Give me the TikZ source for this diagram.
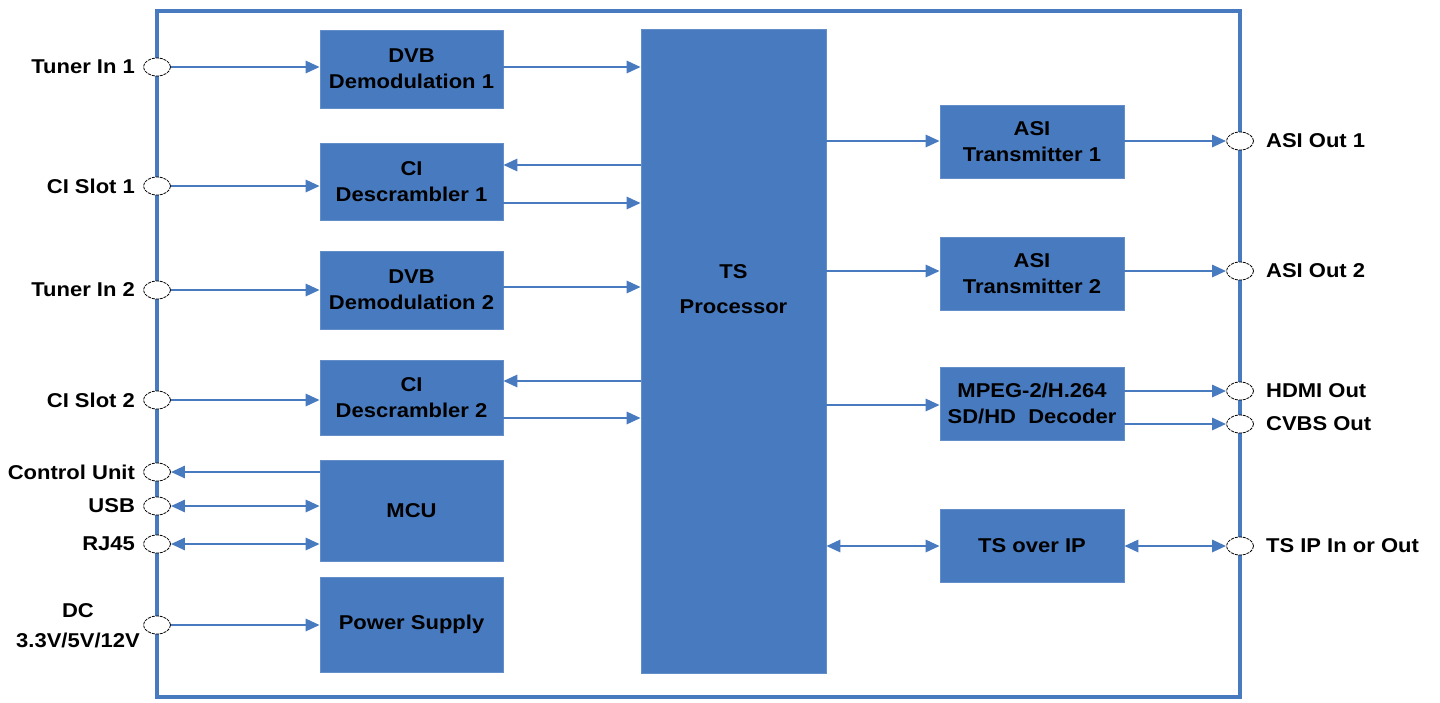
\documentclass[tikz,border=0pt]{standalone}
\usepackage{fontspec}
\setmainfont{Liberation Sans}[FakeStretch=1.1]
\usetikzlibrary{arrows.meta,positioning,shapes.geometric}
\definecolor{bblue}{RGB}{72,122,192}
\begin{document}
\begin{tikzpicture}[x=1pt,y=-1pt,
  txt/.style={font=\fontsize{20}{26}\selectfont\bfseries, text=black},
  blk/.style={txt, fill=bblue, draw=bblue!85!white, line width=0.6pt, align=center, minimum width=183pt, inner sep=0pt},
  port/.style={ellipse, draw=black, fill=white, line width=0.8pt, dash pattern=on 3pt off 1pt, minimum width=27pt, minimum height=18pt, inner sep=0pt},
  lbl/.style={txt, inner sep=0pt},
  frm/.style={draw=bblue, line width=3.2pt},
  tip/.tip={Triangle[length=14pt,width=12pt]},
  arr/.style={draw=bblue, line width=2.8pt, -tip},
  darr/.style={draw=bblue, line width=2.8pt, tip-tip},
  rarr/.style={draw=bblue, line width=2.8pt, tip-}
]
\useasboundingbox (0,0) rectangle (1440,702);
% frame
\draw[frm] (157,11) rectangle (1240,697);

% left blocks
\node[blk, minimum height=78pt] (dvb1) at (411.5,69) {DVB\\Demodulation 1};
\node[blk, minimum height=77pt] (ci1) at (411.5,181.5) {CI\\Descrambler 1};
\node[blk, minimum height=78pt] (dvb2) at (411.5,290) {DVB\\Demodulation 2};
\node[blk, minimum height=75pt] (ci2) at (411.5,397.5) {CI\\Descrambler 2};
\node[blk, minimum height=101pt] (mcu) at (411.5,510.5) {MCU};
\node[blk, minimum height=95pt] (psu) at (411.5,624.5) {Power Supply};
% TS processor
\node[blk, minimum width=185pt, minimum height=644pt] (ts) at (733.5,351) {};
\node[lbl, align=center, font=\fontsize{20}{35}\selectfont\bfseries] (tslbl) at (733.5,289) {TS\\Processor};
% right blocks
\node[blk, minimum width=184pt, minimum height=73pt] (asi1) at (1032,141.5) {ASI\\Transmitter 1};
\node[blk, minimum width=184pt, minimum height=73pt] (asi2) at (1032,273.5) {ASI\\Transmitter 2};
\node[blk, minimum width=184pt, minimum height=73pt] (dec) at (1032,403.5) {MPEG-2/H.264\\SD/HD\ \ Decoder};
\node[blk, minimum width=184pt, minimum height=73pt] (tsip) at (1032,545.5) {TS over IP};

% left ports
\node[port] (pt1) at (157,67) {};
\node[port] (pc1) at (157,186) {};
\node[port] (pt2) at (157,290) {};
\node[port] (pc2) at (157,400) {};
\node[port] (pcu) at (157,472) {};
\node[port] (pusb) at (157,506) {};
\node[port] (prj) at (157,544) {};
\node[port] (pdc) at (157,625) {};
\node[lbl, left=8pt of pt1] (lt1) {Tuner In 1};
\node[lbl, left=8pt of pc1] (lc1) {CI Slot 1};
\node[lbl, left=8pt of pt2] (lt2) {Tuner In 2};
\node[lbl, left=8pt of pc2] (lc2) {CI Slot 2};
\node[lbl, left=8pt of pcu] (lcu) {Control Unit};
\node[lbl, left=8pt of pusb] (lusb) {USB};
\node[lbl, left=8pt of prj] (lrj) {RJ45};
\node[lbl, align=center, font=\fontsize{20}{30}\selectfont\bfseries] (ldc) at (78,626) {DC\\3.3V/5V/12V};

% right ports
\node[port] (pa1) at (1240,141) {};
\node[port] (pa2) at (1240,271) {};
\node[port] (phd) at (1240,391) {};
\node[port] (pcv) at (1240,424) {};
\node[port] (pip) at (1240,546) {};
\node[lbl, right=12pt of pa1] (la1) {ASI Out 1};
\node[lbl, right=12pt of pa2] (la2) {ASI Out 2};
\node[lbl, right=12pt of phd] (lhd) {HDMI Out};
\node[lbl, right=12pt of pcv] (lcv) {CVBS Out};
\node[lbl, right=12pt of pip] (lip) {TS IP In or Out};

% left connectors
\draw[arr] (pt1.east) -- (pt1 -| dvb1.west);
\draw[arr] (pc1.east) -- (pc1 -| ci1.west);
\draw[arr] (pt2.east) -- (pt2 -| dvb2.west);
\draw[arr] (pc2.east) -- (pc2 -| ci2.west);
\draw[rarr] (pcu.east) -- (pcu -| mcu.west);
\draw[darr] (pusb.east) -- (pusb -| mcu.west);
\draw[darr] (prj.east) -- (prj -| mcu.west);
\draw[arr] (pdc.east) -- (pdc -| psu.west);

% to / from TS processor
\draw[arr] (dvb1.east |- 0,67) -- (ts.west |- 0,67);
\draw[arr] (ts.west |- 0,165) -- (ci1.east |- 0,165);
\draw[arr] (ci1.east |- 0,203) -- (ts.west |- 0,203);
\draw[arr] (dvb2.east |- 0,287) -- (ts.west |- 0,287);
\draw[arr] (ts.west |- 0,381) -- (ci2.east |- 0,381);
\draw[arr] (ci2.east |- 0,418) -- (ts.west |- 0,418);

\draw[arr] (ts.east |- pa1) -- (asi1.west |- pa1);
\draw[arr] (ts.east |- pa2) -- (asi2.west |- pa2);
\draw[arr] (ts.east |- 0,405) -- (dec.west |- 0,405);
\draw[darr] (ts.east |- pip) -- (tsip.west |- pip);

% right connectors
\draw[arr] (asi1.east |- pa1) -- (pa1.west);
\draw[arr] (asi2.east |- pa2) -- (pa2.west);
\draw[arr] (dec.east |- phd) -- (phd.west);
\draw[arr] (dec.east |- pcv) -- (pcv.west);
\draw[darr] (tsip.east |- pip) -- (pip.west);
\end{tikzpicture}
\end{document}
